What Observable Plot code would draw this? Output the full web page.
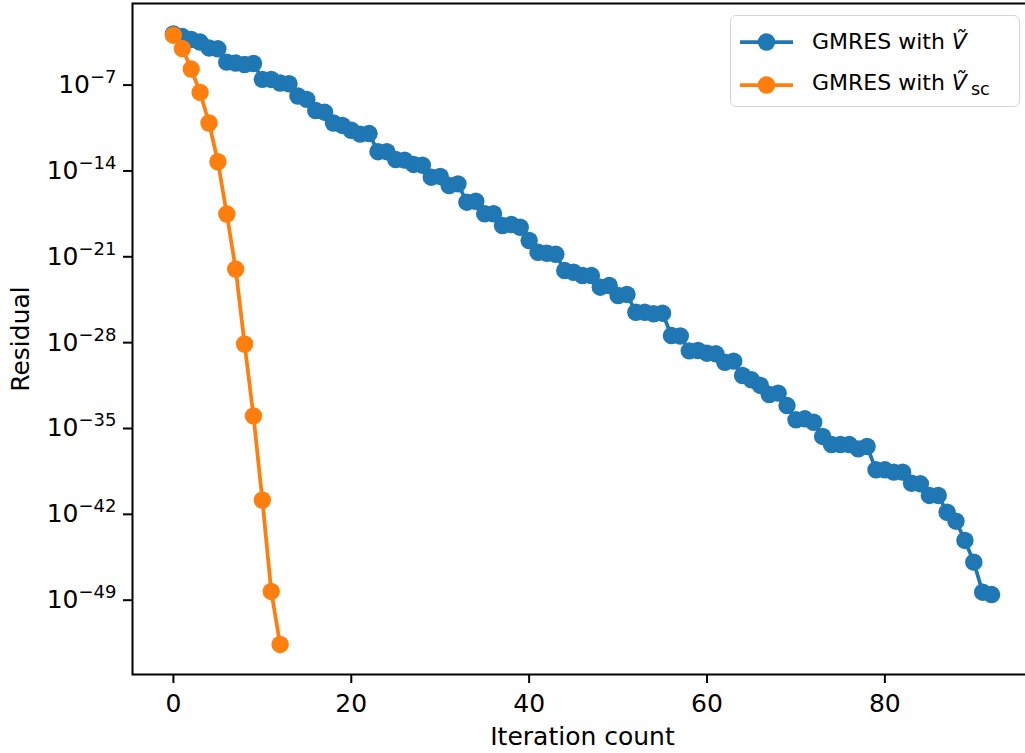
<!DOCTYPE html>
<html><head><meta charset="utf-8">
<script src="https://cdn.jsdelivr.net/npm/d3@7"></script>
<script src="https://cdn.jsdelivr.net/npm/@observablehq/plot@0.6"></script>
<style>
body{margin:0;background:#fff;overflow:hidden;font-family:"DejaVu Sans",sans-serif;}
#wrap{position:relative;width:1025px;height:753px;overflow:hidden;}
#legend{position:absolute;left:730px;top:15px;width:288px;height:90px;border:1.5px solid #d5d5d5;border-radius:6px;background:rgba(255,255,255,0.8);font-size:22px;color:#000;}
.entry{position:absolute;left:0;width:288px;height:30px;}
.entry svg{position:absolute;left:8px;top:0;}
.entry span{position:absolute;left:81px;top:50%;transform:translateY(-50%);white-space:nowrap;line-height:1;}
.entry i{padding-right:1px;}
.entry sub{font-size:0.8em;vertical-align:-0.3em;margin-left:3px;}
</style></head>
<body><div id="wrap"><div id="chart"></div><div id="legend"></div></div>
<script>
// Residual per GMRES iteration (index = iteration count)
const residualV = [
  1.48e-3, 9.12e-4, 5.25e-4, 3.24e-4, 1.07e-4, 9.12e-5, 7.41e-6, 6.31e-6, 4.79e-6, 5.75e-6,
  2.95e-7, 2.88e-7, 1.48e-7, 1.29e-7, 1.29e-8, 6.92e-9, 8.51e-10, 6.17e-10, 8.13e-11, 5.13e-11,
  2.09e-11, 1.00e-11, 1.12e-11, 3.72e-13, 3.72e-13, 8.51e-14, 7.59e-14, 3.39e-14, 2.95e-14, 3.09e-15,
  3.55e-15, 6.46e-16, 8.91e-16, 2.82e-17, 3.39e-17, 3.24e-18, 3.24e-18, 3.55e-19, 4.27e-19, 2.57e-19,
  2.14e-20, 2.34e-21, 1.95e-21, 1.62e-21, 7.59e-23, 5.50e-23, 2.95e-23, 2.95e-23, 3.31e-24, 4.57e-24,
  6.92e-25, 8.51e-25, 3.02e-26, 3.02e-26, 2.24e-26, 2.51e-26, 3.80e-28, 3.47e-28, 2.14e-29, 2.29e-29,
  1.38e-29, 1.23e-29, 2.51e-30, 3.09e-30, 2.09e-31, 9.33e-32, 3.24e-32, 5.89e-33, 7.59e-33, 7.41e-34,
  5.13e-35, 6.17e-35, 3.24e-35, 2.24e-36, 4.90e-37, 4.90e-37, 4.90e-37, 2.19e-37, 3.39e-37, 4.27e-39,
  4.27e-39, 2.75e-39, 2.75e-39, 3.47e-40, 3.09e-40, 3.47e-41, 3.47e-41, 1.48e-42, 2.75e-43, 7.41e-45,
  1.26e-46, 4.47e-49, 2.88e-49
];
const residualVsc = [
  1.17e-3, 9.55e-5, 2.04e-6, 2.51e-8, 8.13e-11, 5.62e-14, 3.09e-18, 1.00e-22, 7.76e-29, 1.07e-34,
  1.48e-41, 5.13e-49, 2.45e-53
];
const xTicks = [0, 20, 40, 60, 80];
const yTickExponents = [-7, -14, -21, -28, -35, -42, -49];
const seriesColors = ["#1f77b4", "#ff7f0e"];
const legendLabels = ['GMRES with <i>Ṽ</i>', 'GMRES with <i>Ṽ</i><sub>sc</sub>'];

const blue = residualV.map((r, i) => ({iter: i, residual: r}));
const orange = residualVsc.map((r, i) => ({iter: i, residual: r}));
const yTicks = yTickExponents.map(e => Math.pow(10, e));

const chart = Plot.plot({
  width: 1025,
  height: 753,
  marginLeft: 132,
  marginRight: -7,
  marginTop: 3,
  marginBottom: 79,
  style: {fontFamily: "DejaVu Sans", fontSize: "25px", color: "black", background: "white", overflow: "hidden"},
  x: {domain: [-4.6, 96.6]},
  y: {type: "log", domain: [Math.pow(10, -55.06), Math.pow(10, -0.346)]},
  marks: [
    Plot.line(blue, {x: "iter", y: "residual", stroke: seriesColors[0], strokeWidth: 3.75}),
    Plot.dot(blue, {x: "iter", y: "residual", r: 8.7, fill: seriesColors[0], stroke: "none"}),
    Plot.line(orange, {x: "iter", y: "residual", stroke: seriesColors[1], strokeWidth: 3.75}),
    Plot.dot(orange, {x: "iter", y: "residual", r: 8.7, fill: seriesColors[1], stroke: "none"}),
    Plot.axisX({ticks: xTicks, tickSize: 9, tickPadding: 11, strokeWidth: 2, label: null, tickFormat: d => String(d)}),
    Plot.axisY({ticks: yTicks, tickSize: 9, tickPadding: 7, strokeWidth: 2, label: null,
      tickFormat: d => String(Math.round(Math.log10(d)))}),
    Plot.text(["Iteration count"], {frameAnchor: "bottom", dy: 70, fontSize: 25}),
    Plot.text(["Residual"], {frameAnchor: "left", textAnchor: "middle", dx: -112, rotate: -90, fontSize: 25}),
    Plot.frame({stroke: "black", strokeWidth: 2})
  ]
});
document.getElementById("chart").appendChild(chart);

// Render y tick labels as 10 with superscript exponent
d3.select(chart).selectAll('g[aria-label="y-axis tick label"] text').each(function() {
  const t = d3.select(this);
  const exp = t.text().replace("-", "\u2212");
  t.text("");
  t.append("tspan").text("10");
  t.append("tspan").attr("dy", "-10").attr("font-size", "18px").text(exp);
});

// Legend
const legend = d3.select("#legend");
const centers = [26, 69];
legendLabels.forEach((lab, k) => {
  const e = legend.append("div").attr("class", "entry").style("top", (centers[k] - 15) + "px");
  const s = e.append("svg").attr("width", 56).attr("height", 30);
  s.append("line").attr("x1", 1).attr("x2", 54).attr("y1", 15).attr("y2", 15)
    .attr("stroke", seriesColors[k]).attr("stroke-width", 3.75);
  s.append("circle").attr("cx", 27.5).attr("cy", 15).attr("r", 8.7).attr("fill", seriesColors[k]);
  e.append("span").html(lab);
});
</script>
</body></html>
